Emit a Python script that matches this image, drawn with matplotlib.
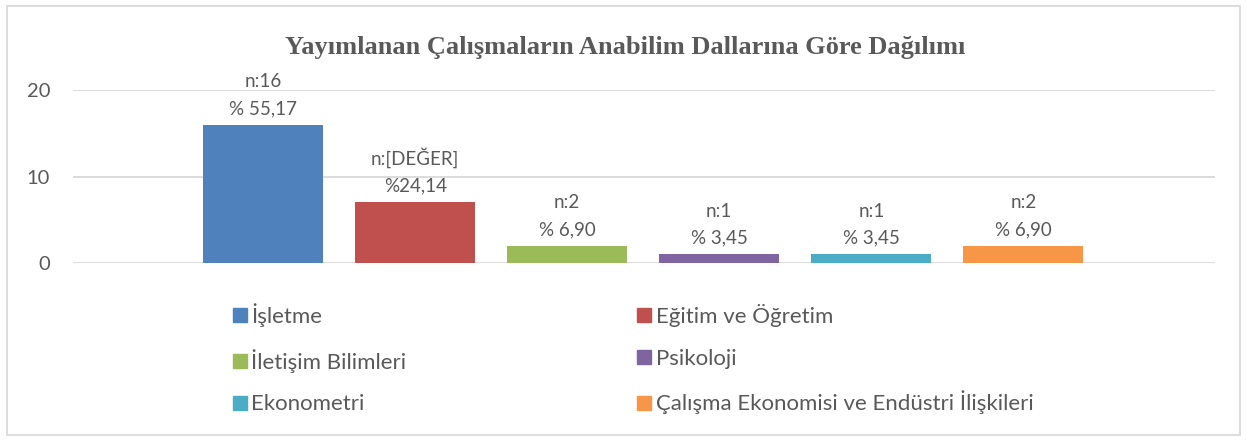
import matplotlib
matplotlib.use("Agg")
import matplotlib.pyplot as plt
from matplotlib.patches import Rectangle
from matplotlib.lines import Line2D

# Data
departments = ["İşletme", "Eğitim ve Öğretim", "İletişim Bilimleri",
               "Psikoloji", "Ekonometri", "Çalışma Ekonomisi ve Endüstri İlişkileri"]
counts = [16, 7, 2, 1, 1, 2]
count_labels = ["n:16", "n:[DEĞER]", "n:2", "n:1", "n:1", "n:2"]
pct_labels = ["% 55,17", "%24,14", "% 6,90", "% 3,45", "% 3,45", "% 6,90"]
colors = ["#4F81BD", "#C0504D", "#9BBB59", "#8064A2", "#4BACC6", "#F79646"]
yticks = [0, 10, 20]

text_color = "#595959"
plt.rcParams['font.family'] = ['Lato', 'DejaVu Sans']

fig = plt.figure(figsize=(12.46, 4.41), dpi=100)
ax = fig.add_axes([0.0586, 0.4036, 0.9165, 0.3923])

for i, (c, col) in enumerate(zip(counts, colors)):
    ax.bar(i, c, width=0.79, color=col, label=departments[i], zorder=3)
    ax.annotate(count_labels[i] + "\n" + pct_labels[i], (i, c),
                xytext=(0, 5.5), textcoords="offset points",
                ha="center", va="bottom", fontsize=13.5, color=text_color,
                linespacing=1.7, annotation_clip=False)

ax.set_xlim(-1.25, 6.26)
ax.set_ylim(0, 20)
ax.set_yticks(yticks)
ax.set_xticks([])
ax.grid(axis="y", color="#D9D9D9", linewidth=1.3, zorder=0)
for s in ax.spines.values():
    s.set_visible(False)
ax.tick_params(axis="y", length=0, labelsize=14.5, labelcolor=text_color, pad=16.5)

fig.text(0.502, 0.892, "Yayımlanan Çalışmaların Anabilim Dallarına Göre Dağılımı",
         ha="center", va="center", fontsize=19, fontweight="bold",
         family="Liberation Serif", color=text_color)

# legend in row order (Excel style), square markers
order = [0, 2, 4, 1, 3, 5]
handles = [Line2D([], [], marker="s", linestyle="none", markersize=9.5,
                  color=colors[k]) for k in order]
labels = [departments[k] for k in order]
fig.legend(handles, labels, ncol=2, loc="upper left",
           bbox_to_anchor=(0.178, 0.338), frameon=False,
           fontsize=16, labelcolor=text_color,
           handlelength=0.6, handletextpad=0.22,
           columnspacing=10.4, labelspacing=0.98, borderpad=0)

fig.patches.append(Rectangle((0.006, 0.0136), 0.989, 0.972, transform=fig.transFigure,
                             fill=False, edgecolor="#D9D9D9", linewidth=1.3))

fig.savefig("out.png", dpi=100, facecolor="white")
